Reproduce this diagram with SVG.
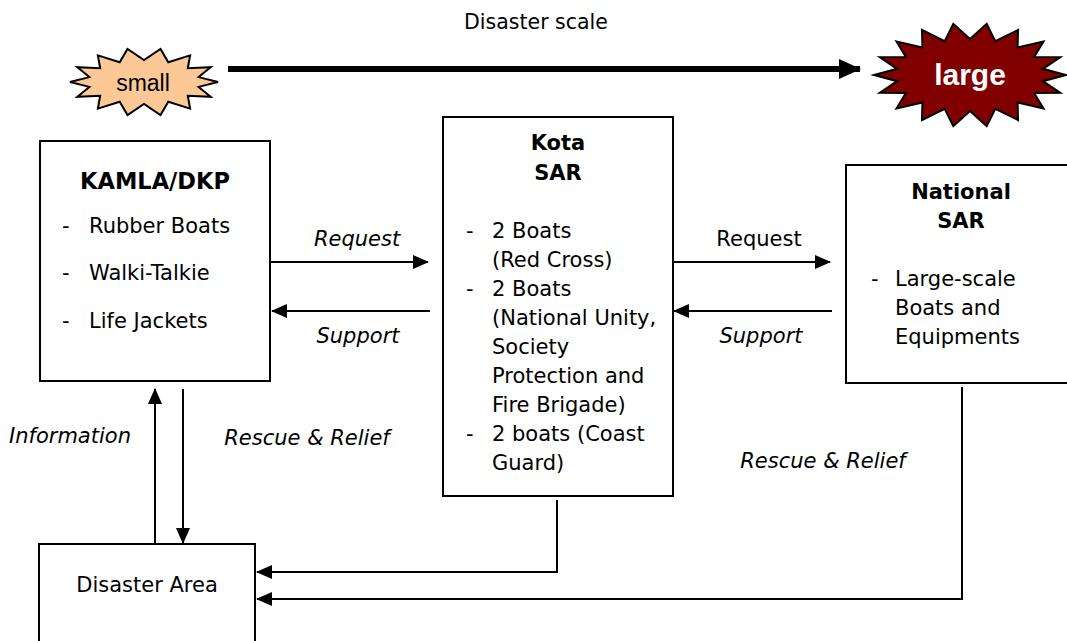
<svg xmlns="http://www.w3.org/2000/svg" width="1067" height="641" viewBox="0 0 1067 641">
  <style>
    text { font-family: "DejaVu Sans", Verdana, sans-serif; font-size: 21px; fill: #000; }
    .b { font-weight: bold; }
    .i { font-style: italic; }
    .c { text-anchor: middle; }
    .box { fill: #fff; stroke: #000; stroke-width: 2; }
    .ln { fill: none; stroke: #000; stroke-width: 2; }
  </style>
  <defs>
    <marker id="ah" markerUnits="userSpaceOnUse" markerWidth="16" markerHeight="14" refX="15" refY="7" orient="auto">
      <path d="M0,0 L16,7 L0,14 Z" fill="#000"/>
    </marker>
    <marker id="ahBig" markerUnits="userSpaceOnUse" markerWidth="22" markerHeight="20" refX="21" refY="10" orient="auto">
      <path d="M0,0 L22,10 L0,20 Z" fill="#000"/>
    </marker>
  </defs>
  <rect width="1067" height="641" fill="#fff"/>

  <!-- scale indicator -->
  <g id="scale">
    <text x="536" y="29" class="c" style="font-size:20.5px">Disaster scale</text>
    <line x1="228" y1="69" x2="860" y2="69" stroke="#000" stroke-width="6" marker-end="url(#ahBig)"/>
  </g>
  <g id="small">
    <polygon fill="#fbc896" stroke="#000" stroke-width="2" points="218,82 198.6,86.9 210.7,96.8 187.8,95.7 190.1,108.6 168.3,101.8 160.5,115.1 144,104 127.5,115.1 119.7,101.8 97.9,108.6 100.2,95.7 77.3,96.8 89.4,86.9 70,82 89.4,77.1 77.3,67.2 100.2,68.3 97.9,55.4 119.7,62.2 127.5,48.9 144,60 160.5,48.9 168.3,62.2 190.1,55.4 187.8,68.3 210.7,67.2 198.6,77.1"/>
    <text x="143" y="91" class="c" style="font-family:'Liberation Sans',Arial,sans-serif;font-size:23px">small</text>
  </g>
  <g id="large">
    <polygon fill="#800000" stroke="#000" stroke-width="2" points="1066,75 1042.9,81.2 1060.2,92.8 1034.1,93 1043.5,108.4 1017.6,102.6 1018,120 995.3,108.8 986.7,126.2 970,111 953.3,126.2 944.7,108.8 922,120 922.4,102.6 896.5,108.4 905.9,93 879.8,92.8 897.1,81.2 874,75 897.1,68.8 879.8,57.2 905.9,57 896.5,41.6 922.4,47.4 922,30 944.7,41.2 953.3,23.8 970,39 986.7,23.8 995.3,41.2 1018,30 1017.6,47.4 1043.5,41.6 1034.1,57 1060.2,57.2 1042.9,68.8"/>
    <text x="970" y="85" class="c b" style="font-family:'Liberation Sans',Arial,sans-serif;font-size:30px;fill:#fff">large</text>
  </g>

  <!-- organisations -->
  <g id="kamla">
    <rect class="box" x="40" y="141" width="230" height="240"/>
    <text x="155" y="189" class="c b" style="font-size:22.5px">KAMLA/DKP</text>
    <text x="62" y="233">-</text><text x="89" y="233">Rubber Boats</text>
    <text x="62" y="280">-</text><text x="89" y="280">Walki-Talkie</text>
    <text x="62" y="328">-</text><text x="89" y="328">Life Jackets</text>
  </g>
  <g id="kota">
    <rect class="box" x="443" y="117" width="230" height="379"/>
    <text x="558" y="150" class="c b">Kota</text>
    <text x="558" y="180" class="c b">SAR</text>
    <text x="466" y="238">-</text><text x="492" y="238">2 Boats</text>
    <text x="492" y="267">(Red Cross)</text>
    <text x="466" y="296">-</text><text x="492" y="296">2 Boats</text>
    <text x="492" y="325">(National Unity,</text>
    <text x="492" y="354">Society</text>
    <text x="492" y="383">Protection and</text>
    <text x="492" y="412">Fire Brigade)</text>
    <text x="466" y="441">-</text><text x="492" y="441">2 boats (Coast</text>
    <text x="492" y="470">Guard)</text>
  </g>
  <g id="national">
    <rect class="box" x="846" y="165" width="240" height="218"/>
    <text x="961" y="199" class="c b">National</text>
    <text x="961" y="228" class="c b">SAR</text>
    <text x="871" y="286">-</text><text x="895" y="286">Large-scale</text>
    <text x="895" y="315">Boats and</text>
    <text x="895" y="344">Equipments</text>
  </g>
  <g id="disaster-area">
    <rect class="box" x="39" y="544" width="216" height="110"/>
    <text x="147" y="592" class="c">Disaster Area</text>
  </g>

  <!-- connectors -->
  <g id="connectors">
    <line class="ln" x1="270" y1="262" x2="428" y2="262" marker-end="url(#ah)"/>
    <line class="ln" x1="430" y1="311" x2="272" y2="311" marker-end="url(#ah)"/>
    <line class="ln" x1="673" y1="262" x2="830" y2="262" marker-end="url(#ah)"/>
    <line class="ln" x1="832" y1="311" x2="674" y2="311" marker-end="url(#ah)"/>
    <line class="ln" x1="155" y1="544" x2="155" y2="389" marker-end="url(#ah)"/>
    <line class="ln" x1="183" y1="389" x2="183" y2="543" marker-end="url(#ah)"/>
    <polyline class="ln" points="557,500 557,572 257,572" marker-end="url(#ah)"/>
    <polyline class="ln" points="962,387 962,599 257,599" marker-end="url(#ah)"/>

    <text x="357" y="246" class="c i">Request</text>
    <text x="358" y="343" class="c i">Support</text>
    <text x="759" y="246" class="c">Request</text>
    <text x="761" y="343" class="c i">Support</text>
    <text x="70" y="443" class="c i">Information</text>
    <text x="307" y="445" class="c i">Rescue &amp; Relief</text>
    <text x="823" y="468" class="c i">Rescue &amp; Relief</text>
  </g>
</svg>
